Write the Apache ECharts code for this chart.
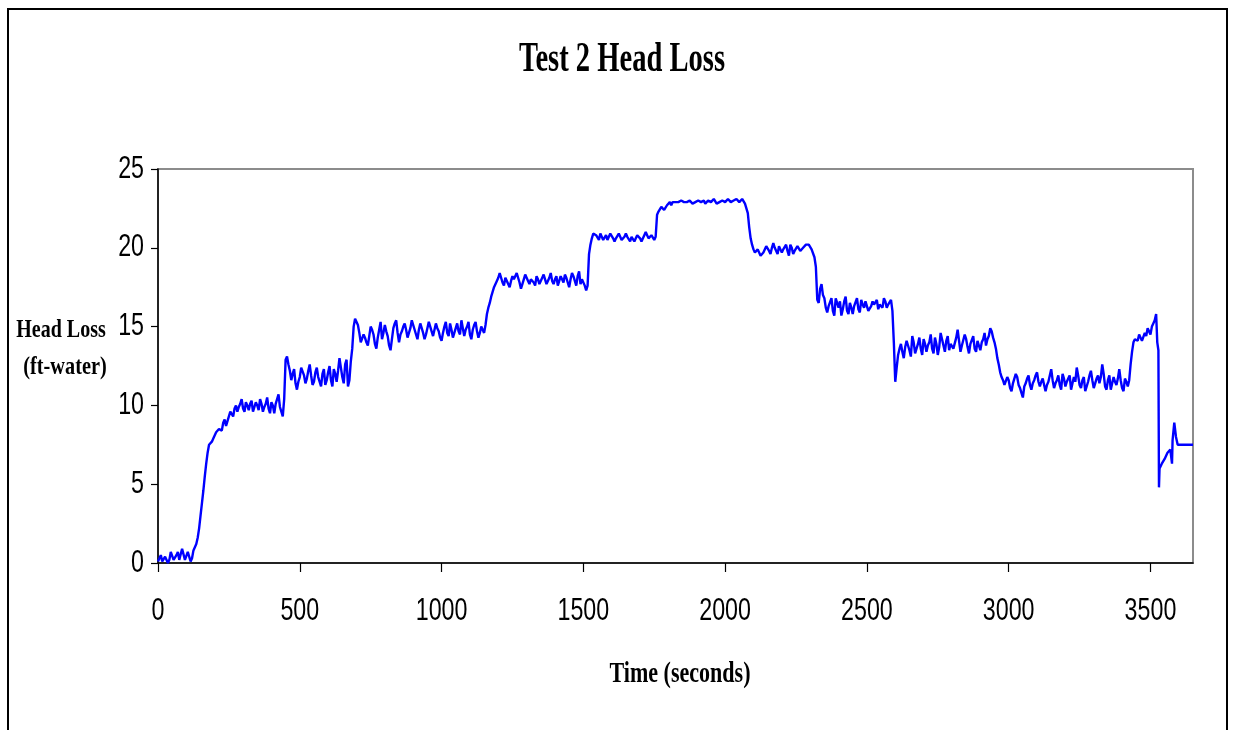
<!DOCTYPE html>
<html>
<head>
<meta charset="utf-8">
<script src="https://cdn.jsdelivr.net/npm/echarts@6/dist/echarts.min.js"></script>
<style>
html,body{margin:0;padding:0;background:#fff;}
#chart{width:1236px;height:730px;}
</style>
</head>
<body>
<div id="chart"></div>
<script>
// Chart text
const chartTitle = 'Test 2 Head Loss';
const xAxisTitle = 'Time (seconds)';
const yAxisTitleLines = ['Head Loss', '(ft-water)'];
const xTicks = [0, 500, 1000, 1500, 2000, 2500, 3000, 3500];
const yTicks = [0, 5, 10, 15, 20, 25];

// Head loss record (ft-water), sampled every 5 s; each block lists its start time (s)
const sampleStep = 5;
const startA = 0;
const headLossA = [
  0.1,0.3,0.5,0.1,0.0,0.4,0.3,0.0,0.2,0.7,0.6,0.2,0.1,0.5,0.7,0.2,0.3,0.9,0.8,0.2,0.2,0.7,0.6,0.1,0.3,0.8,
  0.9,1.2,1.6,2.2,3.0,3.8,4.6,5.5,6.3,7.0,
  7.5,7.6,7.7,7.9,8.0,8.3,8.2,8.5,8.6,8.4,8.9,9.1,8.7,9.0,9.3,9.6,9.5,9.3,9.8,10.0,
  9.6,9.9,10.1,10.4,9.8,9.6,10.2,10.0,9.7,10.1,10.3,9.6,9.9,10.2,10.0,9.7,10.4,10.1,9.6,9.9,
  10.1,10.5,9.8,9.5,10.2,10.0,9.5,10.1,10.4,10.7,9.9,9.6,9.3,10.4
];
const startB = 450;
const headLossB = [
  12.9,13.1,12.6,12.2,11.6,12.0,12.3,11.4,11.0,11.5,
  11.8,12.4,12.5,11.9,11.4,11.7,12.2,12.6,11.9,11.3,
  11.5,12.1,12.4,11.8,11.7,11.2,12.0,12.3,11.3,11.6,
  12.1,12.5,11.6,11.2,12.3,12.0,11.5,12.2,13.0,12.4,
  11.8,11.4,12.6,12.9,11.2,11.6,12.8,13.6
];
const startC = 690;
const headLossC = [
  15.0,15.5,15.6,15.1,14.6,14.0,13.9,14.5,14.3,14.0,
  13.8,14.4,15.0,14.8,14.5,13.9,13.6,14.3,14.8,15.3,
  14.2,14.6,15.1,14.7,14.4,13.8,13.5,14.2,14.9,15.2,
  15.4,14.6,14.0,14.5,14.7,15.0,15.2,14.8,14.3,14.6,
  14.9,15.4,15.3,14.8,14.5,14.2,14.8,15.2,15.1,14.6,
  14.2,14.5,14.9,15.3,15.0,14.7,14.4,14.8,15.2,14.9,
  14.7,14.3,14.1,14.6,15.0,15.3,14.6,14.4,15.2,14.8,
  14.3,14.6,14.9,15.2,14.7,14.5,15.4,14.9,14.4,14.8,
  15.0,15.3,14.5,14.2,14.8,15.1,15.3,14.7,14.3,14.6,
  15.0,14.8,14.6,15.1
];
const startD = 1160;
const headLossD = [
  15.8,16.2,16.5,16.9,17.2,17.5,17.6,17.9,18.1,18.4,
  18.3,17.8,17.6,18.1,18.0,17.7,17.5,17.9,18.2,18.0,
  17.9,18.4,18.3,17.8,17.4,17.7,18.0,18.3,18.2,17.9,
  17.7,18.0,18.1,17.8,17.6,18.2,18.0,17.7,17.8,18.1,
  18.3,18.0,17.7,17.9,18.1,18.4,17.9,17.7,18.0,18.2,
  17.6,17.9,18.2,18.0,17.8,18.3,18.1,17.8,17.5,18.0,
  18.4,18.2,17.9,17.6,18.2,18.5,17.7,18.0,17.9,17.6,
  17.3,17.6
];
const startE = 1520;
const headLossE = [
  19.6,20.2,20.6,20.9,21.0,20.8,20.7,20.5,20.9,20.7,
  20.5,20.6,20.8,20.5,20.6,20.9,20.9,20.6,20.4,20.6,
  20.7,20.9,20.8,20.5,20.5,20.7,20.9,20.7,20.6,20.4,
  20.7,20.8,20.4,20.6,20.8,20.7,20.6,20.4,20.5,20.8,
  21.0,20.8,20.6,20.5,20.8,20.9,20.5,20.7
];
const startF = 1760;
const headLossF = [
  22.1,22.3,22.4,22.6,22.6,22.4,22.5,22.7,22.8,22.9,
  22.7,22.9,23.0,22.9,22.8,22.9,22.9,23.0,23.1,22.9,
  22.8,22.9,22.9,23.0,23.0,22.8,22.7,22.9,22.9,23.0,
  23.0,22.9,22.9,23.0,22.8,22.9,23.0,23.1,22.9,22.8,
  23.1,23.0,22.8,22.9,22.9,23.0,23.0,22.9,22.9,23.0,
  23.1,23.0,22.9,22.8,23.0,23.1,23.1,23.0,22.9,23.0,
  23.1,23.0,22.8,22.7
];
const startG = 2080;
const headLossG = [
  22.2,21.3,20.6,20.2,19.9,19.7,19.6,19.9,20.0,19.5,
  19.4,19.7,19.8,20.1,20.2,19.8,19.6,20.0,20.3,20.0,
  19.9,19.6,20.1,19.9,19.7,19.9,20.0,20.2,19.8,19.5,
  20.2,20.0,19.6,19.8,19.9,20.1,20.1,19.8,19.7,20.0,
  19.9,20.2,20.3,20.2,20.1,19.9,19.8,19.4
];
const startH = 2320;
const headLossH = [
  18.8,16.7,16.5,17.4,17.7,17.0,16.8,16.2,15.9,16.3,
  16.4,16.8,16.0,15.7,16.8,16.5,16.2,16.6,15.7,16.1,
  16.6,16.9,16.0,15.8,16.5,16.2,15.8,16.3,16.4,16.8,
  16.1,15.9,16.7,16.4,16.2,16.6,16.5,16.0,15.9,16.3,
  16.6,16.4,16.3,16.7,16.1,16.4,16.5,16.2,16.8,16.6,
  16.2,16.4,16.4,16.7,16.0,14.0
];
const startI = 2600;
const headLossI = [
  11.5,12.4,13.2,13.6,13.9,13.4,13.0,13.7,14.1,13.8,
  13.5,13.1,14.4,14.0,13.3,13.6,13.9,14.3,13.6,13.2,
  14.2,13.9,13.4,13.8,14.0,14.5,13.6,13.3,14.3,13.9,
  13.2,13.7,14.6,14.2,13.8,13.4,14.1,14.4,13.5,13.9,
  14.0,13.6,13.7,14.3,14.8,14.1,13.4,13.8,13.9,14.5,
  14.2,13.7,13.3,13.9,14.0,14.4,13.6,13.4,14.1,13.8,
  13.5,14.0,14.2,14.6,13.8,14.2,14.4,14.9,14.7,14.3,
  14.0,13.6
];
const startJ = 2960;
const headLossJ = [
  13.0,12.6,12.1,11.8,11.6,11.3,11.2,11.8,11.6,11.1,
  10.9,11.4,11.5,12.0,11.8,11.3,11.1,10.8,10.5,11.2,
  11.4,11.7,11.9,11.3,11.0,11.4,11.6,11.9,12.1,11.5,
  11.2,11.5,11.7,11.3,10.9,11.3,11.5,11.9,12.3,11.6,
  11.1,11.4,11.6,11.9,11.3,11.0,12.0,11.7,11.2,11.5,
  11.7,11.9,11.0,11.4,11.8,11.5,12.4,11.9,11.3,11.1,
  11.6,11.8,10.9,11.2,11.5,11.9,12.2,11.6,11.1,11.4,
  11.7,11.9,11.4,11.8,12.6,12.0,11.2,11.0,11.6,11.9,
  11.0,11.4,11.8,11.5,11.3,11.7,12.3,11.6,11.1,10.9,
  11.7,11.5,11.2,11.6
];
const startK = 3430;
const headLossK = [
  12.6,13.4,14.0,14.2,14.3,14.1,14.5,14.3,14.1,14.0,
  14.6,14.4,14.9,14.7,14.5,15.0,15.2,15.4,15.8
];
// Final part of the record at its own times (s) and values (ft-water)
const tailTimes  = [3524, 3528, 3530, 3532, 3540, 3550, 3560, 3570, 3576, 3578, 3584, 3590, 3596, 3650];
const tailValues = [14.0, 13.5, 4.8, 6.0, 6.3, 6.6, 7.0, 7.2, 6.3, 7.8, 8.9, 8.0, 7.5, 7.5];

const blocks = [
  [startA, headLossA], [startB, headLossB], [startC, headLossC], [startD, headLossD],
  [startE, headLossE], [startF, headLossF], [startG, headLossG], [startH, headLossH],
  [startI, headLossI], [startJ, headLossJ], [startK, headLossK]
];
let seriesData = [];
blocks.forEach(([t0, vals]) => {
  vals.forEach((v, i) => seriesData.push([t0 + i * sampleStep, v]));
});
tailTimes.forEach((t, i) => seriesData.push([t, tailValues[i]]));

const chart = echarts.init(document.getElementById('chart'), null, {renderer: 'canvas'});

const serifBold = s => 'bold ' + s + 'px "Liberation Serif", "Times New Roman", serif';
const tickFont = '31px "Liberation Sans", Arial, sans-serif';

chart.setOption({
  backgroundColor: '#ffffff',
  animation: false,
  grid: {
    left: 158, right: 43, top: 169, bottom: 167,
    show: true, borderColor: '#8c8c8c', borderWidth: 2, backgroundColor: 'transparent'
  },
  xAxis: {
    type: 'value', min: 0, max: 3650, interval: 500,
    axisLine: {show: true, lineStyle: {color: '#000', width: 1.5}},
    axisTick: {show: true, inside: false, length: 9, customValues: xTicks, lineStyle: {color: '#000', width: 1.2}},
    axisLabel: {show: false},
    splitLine: {show: false}
  },
  yAxis: {
    type: 'value', min: 0, max: 25, interval: 5,
    axisLine: {show: true, lineStyle: {color: '#000', width: 1.5}},
    axisTick: {show: true, inside: false, length: 7, lineStyle: {color: '#000', width: 1.2}},
    axisLabel: {show: false},
    splitLine: {show: false}
  },
  series: [{
    type: 'line',
    data: seriesData,
    showSymbol: false,
    symbol: 'none',
    lineStyle: {color: '#0000ff', width: 2.4},
    itemStyle: {color: '#0000ff'}
  }]
});

// Tick labels (condensed look), placed through the chart's own axis scales
const graphics = [
  {
    type: 'rect', silent: true, z: -1,
    shape: {x: 8, y: 9, width: 1219, height: 760},
    style: {fill: 'none', stroke: '#000', lineWidth: 2}
  },
  {
    type: 'text', x: 622, y: 60, scaleX: 0.68,
    style: {text: chartTitle, font: serifBold(42), fill: '#000', textAlign: 'center', textVerticalAlign: 'middle'}
  },
  {
    type: 'text', x: 680, y: 675, scaleX: 0.76,
    style: {text: xAxisTitle, font: serifBold(29), fill: '#000', textAlign: 'center', textVerticalAlign: 'middle'}
  },
  {
    type: 'text', x: 61, y: 330, scaleX: 0.77,
    style: {text: yAxisTitleLines[0], font: serifBold(26), fill: '#000', textAlign: 'center', textVerticalAlign: 'middle'}
  },
  {
    type: 'text', x: 65, y: 367, scaleX: 0.78,
    style: {text: yAxisTitleLines[1], font: serifBold(26), fill: '#000', textAlign: 'center', textVerticalAlign: 'middle'}
  }
];
const xBaseY = chart.convertToPixel({yAxisIndex: 0}, 0);
xTicks.forEach(v => {
  const px = chart.convertToPixel({xAxisIndex: 0}, v);
  graphics.push({
    type: 'text', x: px, y: xBaseY + 48, scaleX: 0.75,
    style: {text: String(v), font: tickFont, fill: '#000', textAlign: 'center', textVerticalAlign: 'middle'}
  });
});
const yBaseX = chart.convertToPixel({xAxisIndex: 0}, 0);
yTicks.forEach(v => {
  const py = chart.convertToPixel({yAxisIndex: 0}, v);
  graphics.push({
    type: 'text', x: yBaseX - 14, y: py, scaleX: 0.75,
    style: {text: String(v), font: tickFont, fill: '#000', textAlign: 'right', textVerticalAlign: 'middle'}
  });
});
chart.setOption({graphic: graphics});
</script>
</body>
</html>
